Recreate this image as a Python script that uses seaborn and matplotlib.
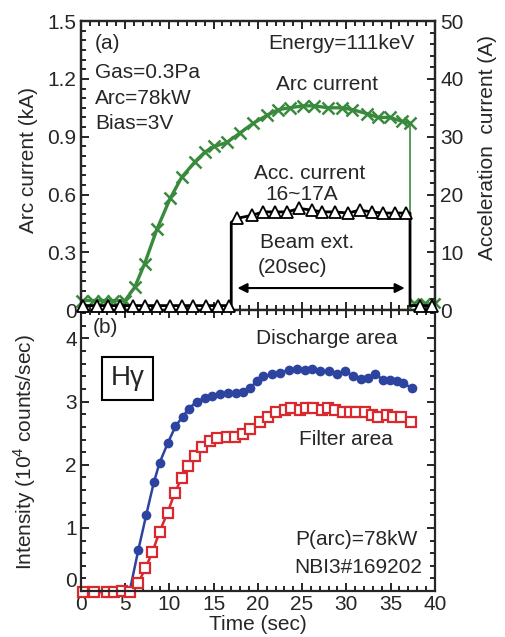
import numpy as np
import pandas as pd
import matplotlib
matplotlib.use("Agg")
import matplotlib.pyplot as plt
from matplotlib.ticker import MultipleLocator
import seaborn as sns

# (a) arc current (kA)
arc_t = [0.1, 1.4, 2.5, 3.6, 5.0, 6.1, 7.2, 8.6, 10.1, 11.4, 12.9, 14.0, 15.1, 16.5,
         18.0, 19.5, 21.0, 22.3, 23.6, 25.1, 26.4, 27.9, 29.5, 30.7, 32.3, 33.6,
         34.9, 36.3, 37.2]
arc_ka = [0.05, 0.05, 0.05, 0.05, 0.05, 0.12, 0.24, 0.42, 0.58, 0.69, 0.77, 0.82, 0.85,
          0.87, 0.92, 0.97, 1.01, 1.04, 1.05, 1.06, 1.06, 1.05, 1.05, 1.04, 1.02, 1.00,
          1.00, 0.98, 0.97]
arc_off_t = [37.7, 38.9, 40.0]
arc_off_ka = [0.04, 0.04, 0.04]

# (a) acceleration current (A)
acc_t = [0.2, 1.8, 3.1, 4.4, 5.9, 7.2, 8.6, 10.1, 11.4, 12.7, 14.2, 15.5, 16.8,
         17.7, 19.3, 20.6, 21.9, 23.3, 24.7, 26.1, 27.3, 28.7, 30.2, 31.5, 32.9,
         34.1, 35.5, 36.8, 38.3, 39.7]
acc_a = [0.8] * 13 + [15.9, 16.4, 17.0, 17.0, 17.0, 17.6, 17.3, 17.0, 17.0, 16.8,
                      17.3, 17.0, 16.8, 16.8, 16.8] + [0.8, 0.8]
beam_on, beam_off = 17.0, 37.2
beam_on_a, beam_off_a = 15.2, 16.8

# (b) H-gamma intensity (10^4 counts/sec)
dis_t = [5.6, 6.5, 7.4, 8.25, 8.9, 9.85, 10.7, 11.5, 12.2, 13.1, 14.0, 14.8, 15.7,
         16.6, 17.5, 18.3, 19.1, 19.9, 20.6, 21.6, 22.5, 23.5, 24.4, 25.3, 26.1,
         27.0, 28.1, 29.0, 29.8, 30.8, 31.7, 32.5, 33.2, 34.2, 34.9, 35.7, 36.4, 37.4]
dis_i = [0.05, 0.65, 1.21, 1.72, 2.03, 2.35, 2.61, 2.76, 2.89, 3.00, 3.06, 3.09, 3.12,
         3.14, 3.14, 3.16, 3.22, 3.32, 3.40, 3.43, 3.46, 3.50, 3.52, 3.50, 3.51,
         3.48, 3.48, 3.44, 3.48, 3.41, 3.36, 3.38, 3.43, 3.35, 3.35, 3.32, 3.29, 3.22]
fil_t = [0.3, 1.5, 3.0, 3.8, 4.7, 5.6, 6.5, 7.3, 8.1, 8.9, 9.8, 10.6, 11.4, 12.1,
         12.9, 13.7, 14.6, 15.4, 16.5, 17.4, 18.3, 19.1, 20.2, 21.2, 22.1, 23.05,
         23.8, 24.75, 25.5, 26.25, 27.2, 27.95, 28.7, 29.65, 30.4, 31.15, 32.1,
         32.85, 33.6, 34.55, 35.3, 36.2, 37.35]
fil_i = [-0.02, -0.02, -0.02, -0.01, 0.0, -0.01, 0.13, 0.36, 0.62, 0.94, 1.24, 1.55,
         1.79, 1.98, 2.14, 2.28, 2.37, 2.42, 2.44, 2.44, 2.48, 2.56, 2.67, 2.75, 2.83,
         2.87, 2.90, 2.87, 2.90, 2.90, 2.87, 2.90, 2.87, 2.84, 2.83, 2.83, 2.83,
         2.79, 2.76, 2.79, 2.76, 2.75, 2.67]

green = "#3a8a3e"
blue = "#2d43a0"
red = "#d9282e"

sns.set_theme(style="ticks")
plt.rcParams["font.family"] = ["Liberation Sans", "DejaVu Sans"]
plt.rcParams["mathtext.fontset"] = "custom"
plt.rcParams["mathtext.rm"] = "Liberation Sans"
plt.rcParams["axes.linewidth"] = 1.6

fig = plt.figure(figsize=(5.05, 6.37), dpi=100)
ax1 = fig.add_axes([0.160, 0.513, 0.701, 0.454])
ax2 = fig.add_axes([0.160, 0.0722, 0.701, 0.441])
ax1r = ax1.twinx()

# ---- panel (a)
sns.lineplot(x=arc_t, y=arc_ka, ax=ax1, color=green, lw=2.4, marker="x",
             markersize=9, markeredgecolor=green, markeredgewidth=1.8,
             estimator=None, sort=False, clip_on=False)
ax1.plot([arc_t[-1], arc_t[-1]], [arc_ka[-1], arc_off_ka[0]], color=green, lw=1.2)
sns.lineplot(x=arc_off_t, y=arc_off_ka, ax=ax1, color=green, lw=1.2, marker="x",
             markersize=7, markeredgecolor=green, markeredgewidth=1.8,
             estimator=None, sort=False, clip_on=False)

# step line for the acceleration current
step = pd.DataFrame({"t": acc_t, "a": acc_a})
on = step[step.t < beam_on]
mid = step[(step.t > beam_on) & (step.t < beam_off)]
off = step[step.t > beam_off]
line_t = list(on.t) + [beam_on, beam_on] + list(mid.t) + [beam_off, beam_off] + list(off.t)
line_a = list(on.a) + [on.a.iloc[-1], beam_on_a] + list(mid.a) + [beam_off_a, off.a.iloc[0]] + list(off.a)
ax1r.plot(line_t, line_a, color="black", lw=2.0, clip_on=False, zorder=3)
sns.lineplot(data=step, x="t", y="a", ax=ax1r, linestyle="none", marker="^",
             markersize=8, markerfacecolor="white", markeredgecolor="black",
             markeredgewidth=1.3, estimator=None, sort=False, clip_on=False, zorder=4)

ax1.annotate("", xy=(36.6, 0.115), xytext=(17.7, 0.115),
             arrowprops=dict(arrowstyle="<|-|>", color="black", lw=1.5,
                             mutation_scale=14, shrinkA=0, shrinkB=0))

ax1.set_xlim(0, 40)
ax1.set_ylim(0, 1.5)
ax1r.set_ylim(0, 50)
ax1.set_yticks([0, 0.3, 0.6, 0.9, 1.2, 1.5])
ax1.set_yticklabels(["0", "0.3", "0.6", "0.9", "1.2", "1.5"])
ax1.yaxis.set_minor_locator(MultipleLocator(0.05))
ax1.xaxis.set_major_locator(MultipleLocator(5))
ax1.xaxis.set_minor_locator(MultipleLocator(1))
ax1r.yaxis.set_major_locator(MultipleLocator(10))
ax1r.yaxis.set_minor_locator(MultipleLocator(2))
ax1.tick_params(which="both", direction="in", top=True, right=False,
                labelbottom=False, labelsize=15, width=1.4, pad=3)
ax1.tick_params(which="major", length=6)
ax1.tick_params(which="minor", length=3.5)
ax1r.tick_params(which="both", direction="in", labelsize=15, width=1.4, pad=4)
ax1r.tick_params(which="major", length=6)
ax1r.tick_params(which="minor", length=3.5)

ax1.set_ylabel("Arc current (kA)", fontsize=15)
ax1.yaxis.set_label_coords(-0.121, 0.519)
ax1r.set_ylabel("Acceleration  current (A)", fontsize=15, rotation=90, va="top")
ax1r.yaxis.set_label_coords(1.121, 0.564)
ax1r.set_xlabel("")

kw = dict(fontsize=15, va="center")
ax1.text(1.6, 1.385, "(a)", ha="left", **kw)
ax1.text(1.6, 1.235, "Gas=0.3Pa", ha="left", **kw)
ax1.text(1.6, 1.10, "Arc=78kW", ha="left", **kw)
ax1.text(1.6, 0.97, "Bias=3V", ha="left", **kw)
ax1.text(37.7, 1.385, "Energy=111keV", ha="right", **kw)
ax1.text(27.8, 1.17, "Arc current", ha="center", **kw)
ax1.text(25.9, 0.71, "Acc. current", ha="center", **kw)
ax1.text(25.0, 0.60, "16~17A", ha="center", **kw)
ax1.text(20.2, 0.35, "Beam ext.", ha="left", **kw)
ax1.text(20.0, 0.22, "(20sec)", ha="left", **kw)

# ---- panel (b)
sns.lineplot(x=dis_t, y=dis_i, ax=ax2, color=blue, lw=1.8, marker="o",
             markersize=7, markeredgewidth=0, markevery=list(range(1, len(dis_t))),
             estimator=None, sort=False, clip_on=False)
sns.lineplot(x=fil_t, y=fil_i, ax=ax2, color=red, lw=1.8, marker="s",
             markersize=7.5, markerfacecolor="white", markeredgecolor=red,
             markeredgewidth=1.6, estimator=None, sort=False, clip_on=False)

ax2.set_xlim(0, 40)
ax2.set_ylim(0, 4.45)
ax2.xaxis.set_major_locator(MultipleLocator(5))
ax2.xaxis.set_minor_locator(MultipleLocator(1))
ax2.set_yticks([0, 1, 2, 3, 4])
ax2.yaxis.set_minor_locator(MultipleLocator(0.2))
ax2.tick_params(which="both", direction="in", top=True, right=True,
                labelsize=15, width=1.4, pad=3)
ax2.tick_params(which="major", length=6)
ax2.tick_params(which="minor", length=3.5)
ax2.get_yticklabels()[0].set_va("bottom")

ax2.set_xlabel("Time (sec)", fontsize=15, va="top")
ax2.xaxis.set_label_coords(0.5, -0.085)
ax2.set_ylabel("Intensity (10$^{4}$ counts/sec)", fontsize=15)
ax2.yaxis.set_label_coords(-0.121, 0.495)

ax2.text(1.4, 4.17, "(b)", ha="left", **kw)
ax2.text(5.3, 3.37, "H\u03b3", ha="center", va="center", fontsize=20,
         bbox=dict(boxstyle="square,pad=0.3", fc="white", ec="black", lw=1.5))
ax2.text(27.8, 4.0, "Discharge area", ha="center", **kw)
ax2.text(30.0, 2.40, "Filter area", ha="center", **kw)
ax2.text(38.1, 0.81, "P(arc)=78kW", ha="right", **kw)
ax2.text(38.6, 0.38, "NBI3#169202", ha="right", **kw)

for a in (ax1, ax1r, ax2):
    for s in a.spines.values():
        s.set_linewidth(1.6)

fig.savefig("out.png", dpi=100)
